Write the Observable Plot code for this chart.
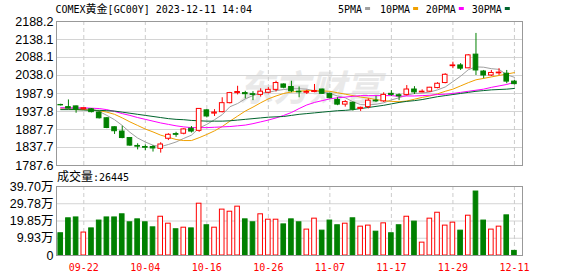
<!DOCTYPE html>
<html><head><meta charset="utf-8">
<script src="https://cdn.jsdelivr.net/npm/d3@7"></script>
<script src="https://cdn.jsdelivr.net/npm/@observablehq/plot@0.6"></script>
<style>
html,body{margin:0;padding:0;background:#fff;}
#wrap{position:relative;width:578px;height:276px;overflow:hidden;background:#fff;}
#wrap svg{position:absolute;left:0;}
</style></head><body><div id="wrap"></div>
<script>
const dates = ["09-19","09-20","09-21","09-22","09-25","09-26","09-27","09-28","09-29","10-02",
  "10-03","10-04","10-05","10-06","10-09","10-10","10-11","10-12","10-13","10-16",
  "10-17","10-18","10-19","10-20","10-23","10-24","10-25","10-26","10-27","10-30",
  "10-31","11-01","11-02","11-03","11-06","11-07","11-08","11-09","11-10","11-13",
  "11-14","11-15","11-16","11-17","11-20","11-21","11-22","11-23","11-24","11-27",
  "11-28","11-29","11-30","12-01","12-04","12-05","12-06","12-07","12-08","12-11"];
const open = [1956,1950,1952,1944,1944,1935,1919,1894,1882,1864, 1842,1839,1839,1834,1862,1875,1876,1890,1884,1941,
  1932,1936,1961,1989,1989,1986,1984,1990,1998,2013, 2006,1993,1990,1992,1999,1987,1970,1957,1962,1945,
  1950,1968,1966,1987,1983,1984,1999,1991,1993,2003, 2017,2064,2066,2058,2096,2049,2038,2044,2043,2021];
const high = [1958,1970,1953,1948,1946,1937,1921,1895,1897,1865, 1848,1845,1843,1851,1876,1880,1890,1896,1946,1943,
  1943,1976,1991,2008,1994,1993,2001,2004,2022,2015, 2022,2006,1997,2013,2000,1989,1976,1968,1964,1950,
  1973,1980,1990,1996,1987,2010,2007,1998,2005,2018, 2043,2075,2071,2096,2155,2052,2052,2057,2052,2024];
const low = [1953,1945,1933,1941,1934,1917,1890,1874,1862,1841, 1831,1829,1825,1822,1857,1866,1873,1878,1880,1920,
  1924,1934,1959,1984,1973,1968,1978,1987,1992,2001, 1990,1976,1985,1990,1985,1973,1954,1950,1939,1938,
  1945,1963,1963,1980,1968,1981,1985,1990,1991,2001, 2015,2057,2052,2057,2038,2029,2035,2038,2015,2012];
const close = [1955,1946,1943,1947,1936,1919,1892,1883,1864,1843, 1840,1837,1835,1846,1873,1873,1888,1882,1945,1924,
  1935,1961,1989,1992,1986,1984,1993,1998,2017,2004, 1994,1991,1992,1995,1987,1975,1957,1964,1943,1948,
  1968,1966,1984,1984,1980,1999,1991,1993,2004,2015, 2040,2066,2057,2094,2052,2038,2045,2046,2021,2014];
const volume = [128000,214000,219000,132000,156000,201000,219000,219000,237000,191000,
  208000,191000,162000,223000,183000,151000,160000,156000,298000,174000,
  160000,264000,252000,281000,208000,191000,237000,206000,206000,179000,
  208000,191000,149000,212000,143000,201000,174000,183000,214000,166000,
  172000,137000,185000,128000,174000,223000,195000,74000,212000,246000,
  172000,189000,143000,229000,368000,201000,149000,166000,231000,26445];
const ma5 = [1948,1947,1946,1946,1945,1938,1927,1915,1899,1880, 1864,1853,1844,1840,1846,1853,1863,1872,1892,1902,
  1915,1929,1951,1960,1973,1982,1989,1991,1996,1999, 2001,2001,2000,1995,1992,1988,1981,1976,1965,1957,
  1956,1958,1962,1970,1976,1983,1988,1989,1992,1998, 2006,2021,2036,2054,2062,2061,2057,2055,2040,2033];
const ma10 = [1945,1944,1943,1943,1942,1940,1936,1930,1920,1909, 1899,1889,1881,1872,1866,1860,1857,1857,1865,1874,
  1884,1896,1911,1925,1939,1950,1962,1973,1981,1988, 1992,1994,1996,1996,1995,1994,1990,1986,1982,1978,
  1975,1971,1968,1966,1965,1967,1972,1977,1981,1987, 1994,2000,2009,2018,2026,2030,2034,2038,2042,2046];
const ma20 = [1948,1948,1948,1948,1947,1946,1943,1938,1932,1927, 1921,1916,1911,1906,1902,1898,1895,1893,1893,1893,
  1894,1895,1896,1898,1900,1904,1909,1914,1920,1927, 1935,1946,1956,1963,1968,1973,1976,1978,1980,1982,
  1982,1982,1982,1982,1980,1981,1981,1982,1983,1985, 1986,1988,1991,1994,1997,2000,2005,2009,2013,2019];
const ma30 = [1943,1943,1943,1942,1941,1941,1940,1939,1936,1933, 1930,1927,1924,1921,1918,1916,1915,1913,1912,1911,
  1911,1911,1912,1914,1916,1918,1920,1922,1923,1924, 1927,1930,1932,1934,1936,1938,1940,1941,1943,1946,
  1949,1952,1955,1959,1963,1966,1968,1971,1975,1979, 1982,1985,1988,1991,1994,1996,1998,1999,2000,2002];
const priceTicks = [1787.6,1837.7,1887.7,1937.8,1987.9,2038.0,2088.1,2138.1,2188.2];
const volTicks = [0,99300,198500,297800,397000];
const volTickLabels = ["0","9.93万","19.85万","29.78万","39.70万"];
const dateTickLabels = ["09-22","10-04","10-16","10-26","11-07","11-17","11-29","12-11"];
const maNames = ["5PMA","10PMA","20PMA","30PMA"];
const maSeries = [ma5, ma10, ma20, ma30];
const maColors = ["#a0a0a0","#f0a000","#ff00ff","#00642d"];

const RED = "#ff0000", GREEN = "#008000";
const idx = d3.range(dates.length);
const tickIdx = dateTickLabels.map(d => dates.indexOf(d));
const isUp = i => close[i] > open[i];
const col = i => isUp(i) ? RED : GREEN;
const bodyFill = i => isUp(i) ? "#ffffff" : GREEN;
const HW = 0.3;
const xDomain = [-0.55, dates.length + 0.05];
const wrap = document.getElementById("wrap");
const baseStyle = {fontFamily:"'Liberation Sans','Noto Sans CJK SC',sans-serif", fontSize:"12.5px", color:"#000", background:"transparent", overflow:"visible"};

const price = Plot.plot({
  width:578, height:170, marginTop:21, marginBottom:5, marginLeft:56, marginRight:56,
  x:{domain:xDomain, axis:null},
  y:{domain:[priceTicks[0], priceTicks[priceTicks.length-1]], axis:null},
  color:{type:"identity"},
  style: baseStyle,
  marks:[
    Plot.text(["东方财富"], {frameAnchor:"middle", dx:20, dy:-4, fontSize:36, fontWeight:"bold", fontStyle:"italic", fill:"#e9e9e9", fontFamily:"'Noto Sans CJK SC',sans-serif"}),
    Plot.ruleY(priceTicks.slice(1,-1), {stroke:"#d4d4d4"}),
    Plot.ruleX(tickIdx, {stroke:"#cccccc", strokeDasharray:"4,3"}),
    ...maSeries.map((s,k) => Plot.line(idx, {x:i=>i, y:i=>s[i], stroke:maColors[k], strokeWidth:1})),
    Plot.ruleX(idx, {x:i=>i, y1:i=>low[i], y2:i=>high[i], stroke:col}),
    Plot.rect(idx, {x1:i=>i-HW, x2:i=>i+HW, y1:i=>open[i], y2:i=>close[i], fill:bodyFill, stroke:col}),
    Plot.frame({stroke:"#999999"}),
    Plot.axisY(priceTicks, {tickFormat:d=>d.toFixed(1), tickSize:0, tickPadding:3, fontSize:12.5, fill:"#000"})
  ]
});
price.style.top = "0px";
wrap.appendChild(price);

const vol = Plot.plot({
  width:578, height:106, marginTop:16, marginBottom:21, marginLeft:56, marginRight:56,
  x:{domain:xDomain, axis:null},
  y:{domain:[volTicks[0], volTicks[volTicks.length-1]], axis:null},
  color:{type:"identity"},
  style: baseStyle,
  marks:[
    Plot.ruleY(volTicks.slice(1,-1), {stroke:"#d4d4d4"}),
    Plot.ruleX(tickIdx, {stroke:"#cccccc", strokeDasharray:"4,3"}),
    Plot.rect(idx, {x1:i=>i-HW, x2:i=>i+HW, y1:0, y2:i=>volume[i], fill:bodyFill, stroke:col}),
    Plot.frame({stroke:"#999999"}),
    Plot.axisY(volTicks, {tickFormat:d=>volTickLabels[volTicks.indexOf(d)], tickSize:0, tickPadding:3, fontSize:12.5, fill:"#000"}),
    Plot.axisX(tickIdx, {tickFormat:i=>dates[i], tickSize:0, tickPadding:8, fontSize:10, fontFamily:"'DejaVu Sans Mono',monospace", fill:RED, color:RED})
  ]
});
vol.style.top = "170px";
wrap.appendChild(vol);

// header texts
const ov = d3.create("svg").attr("width",578).attr("height",276).style("top","0px").style("pointer-events","none");
const mono = "'DejaVu Sans Mono',monospace", cjk = "'Noto Sans CJK SC',sans-serif";
const t = ov.append("text").attr("x",55.5).attr("y",12.5).attr("font-family",mono).attr("font-size",10).attr("fill","#000");
t.append("tspan").text("COMEX");
t.append("tspan").attr("font-family",cjk).attr("font-size",11).text("黄金");
t.append("tspan").text("[GC00Y] 2023-12-11 14:04");
const legX = [338, 380, 425.7, 471.7];
maNames.forEach((n,k) => {
  ov.append("text").attr("x",legX[k]).attr("y",12.5).attr("font-family",mono).attr("font-size",10).attr("fill","#000").text(n);
  ov.append("rect").attr("x",legX[k] + n.length*6.02 + 3).attr("y",7).attr("width",5).attr("height",3).attr("fill",maColors[k]);
});
const vh = ov.append("text").attr("x",57).attr("y",180.5).attr("font-family",mono).attr("font-size",10).attr("fill","#000");
vh.append("tspan").attr("font-family",cjk).attr("font-size",12).text("成交量");
vh.append("tspan").text(":" + volume[volume.length-1]);
wrap.appendChild(ov.node());
</script></body></html>
